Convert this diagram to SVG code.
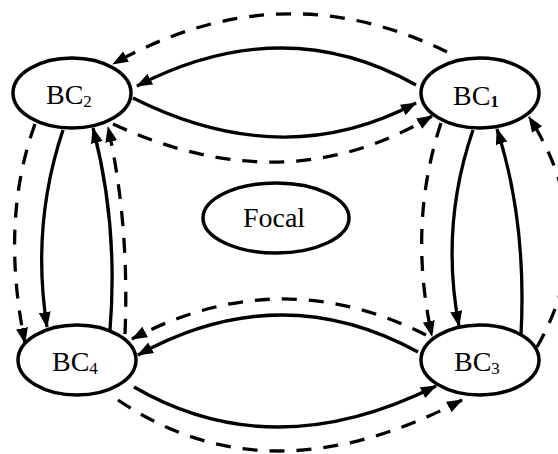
<svg xmlns="http://www.w3.org/2000/svg" width="558" height="454" viewBox="0 0 558 454">
<style>
.node ellipse{fill:#fff;stroke:#000;stroke-width:3.5}
.lbl{font-family:"Liberation Serif","Times New Roman",serif;font-size:28px;fill:#000}
.sub{font-size:17px}
.e{fill:none;stroke:#000;stroke-width:3.3;marker-end:url(#ah)}
.d{stroke-dasharray:15,12}
</style>
<defs>
<marker id="ah" markerUnits="userSpaceOnUse" markerWidth="17" markerHeight="13" refX="15" refY="6" orient="auto">
<path d="M0,0 L16,6 L0,12 z" fill="#000"/>
</marker>
</defs>
<g id="connectors">
<path class="e" d="M416,85 Q283.5,10.5 137,86"/>
<path class="e" d="M133,98 Q283.5,173.5 416,103"/>
<path class="e d" d="M447,52 Q280,-30 113,64"/>
<path class="e d" d="M113,124 Q285.5,204 432,116"/>
<path class="e" d="M63,130 Q31,225.5 47,327"/>
<path class="e" d="M110,330 Q118.5,225 93,128"/>
<path class="e d" d="M35,124 Q0,220.5 25,343"/>
<path class="e d" d="M125,334 Q129.5,223.5 108,127"/>
<path class="e d" d="M441,123 Q407.5,224.5 432,336"/>
<path class="e" d="M473,130 Q440,226 459,326"/>
<path class="e" d="M521,335 Q527,222 497,129"/>
<path class="e d" d="M537,347 Q603,232 529,117"/>
<path class="e d" d="M426,335 Q279,261 132,339"/>
<path class="e" d="M418,352 Q280,276.5 138,355"/>
<path class="e" d="M134,387 Q273,467.5 436,386"/>
<path class="e d" d="M118,400 Q268,502 462,400"/>
</g>
<g id="BC2" class="node">
<ellipse cx="72" cy="93" rx="59" ry="35"/>
<text class="lbl" x="46" y="104">BC<tspan class="sub" dy="3">2</tspan></text>
</g>
<g id="BC1" class="node">
<ellipse cx="480" cy="93" rx="59" ry="35"/>
<text class="lbl" x="453" y="105">BC<tspan class="sub" dy="2" font-weight="bold">1</tspan></text>
</g>
<g id="BC4" class="node">
<ellipse cx="77" cy="360" rx="59" ry="35"/>
<text class="lbl" x="52" y="371">BC<tspan class="sub" dy="3">4</tspan></text>
</g>
<g id="BC3" class="node">
<ellipse cx="480" cy="360" rx="59" ry="35"/>
<text class="lbl" x="454" y="371">BC<tspan class="sub" dy="3">3</tspan></text>
</g>
<g id="Focal" class="node">
<ellipse cx="276" cy="218" rx="73" ry="35"/>
<text class="lbl" x="274" y="227" text-anchor="middle">Focal</text>
</g>
</svg>
